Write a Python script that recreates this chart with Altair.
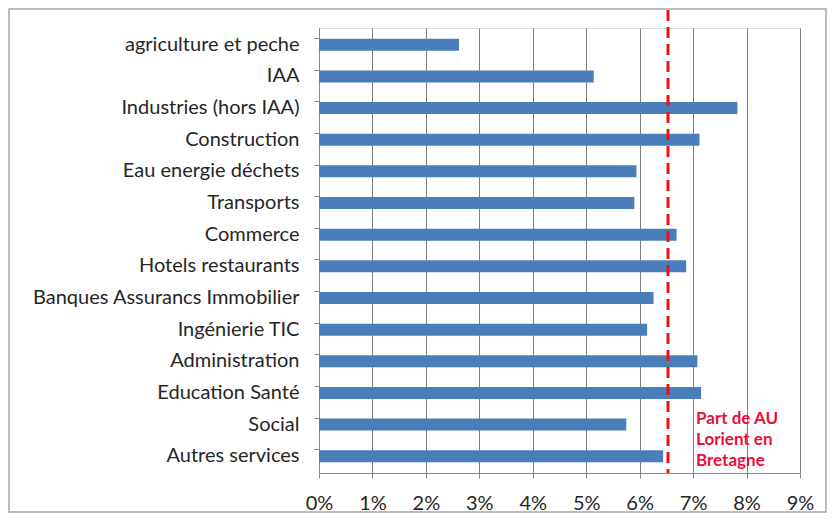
import altair as alt
import pandas as pd

categories = [
    "agriculture et peche", "IAA", "Industries (hors IAA)", "Construction",
    "Eau energie déchets", "Transports", "Commerce", "Hotels restaurants",
    "Banques Assurancs Immobilier", "Ingénierie TIC ", "Administration",
    "Education Santé", "Social", "Autres services",
]
values = [0.0262, 0.0514, 0.0783, 0.0712, 0.0594, 0.0590, 0.0669, 0.0687,
          0.0626, 0.0614, 0.0708, 0.0715, 0.0575, 0.0644]
ref_value = [0.0653]
ref_label = ["Part de AU\nLorient en\nBretagne"]
x_ticks = [0, 0.01, 0.02, 0.03, 0.04, 0.05, 0.06, 0.07, 0.08, 0.09]

df = pd.DataFrame({"cat": categories, "val": values})
ref = pd.DataFrame({"v": ref_value, "lab": ref_label})

FONT = "Lato"
W, H = 481, 445

xscale = alt.Scale(domain=[0, 0.09], nice=False, zero=True)

bars = alt.Chart(df).mark_bar(color="#4a7ebb", size=12).encode(
    y=alt.Y("cat:N", sort=None, title=None,
            scale=alt.Scale(paddingInner=0.6, paddingOuter=0.33),
            axis=alt.Axis(labelFont=FONT, labelFontSize=20, labelColor="#262626",
                          labelPadding=15, tickSize=5, bandPosition=0,
                          tickColor="#888", domainColor="#888",
                          labelLimit=320, grid=False)),
    x=alt.X("val:Q", scale=xscale, title=None,
            axis=alt.Axis(values=x_ticks, format=".0%", labelFont=FONT,
                          labelFontSize=20, labelColor="#262626", labelPadding=15,
                          labelFlush=False, labelOverlap=False,
                          tickSize=5, tickColor="#888", domainColor="#888",
                          grid=True, gridColor="#7f7f7f", gridWidth=1)),
)

frame = alt.Chart(ref).mark_rect(fill=None, stroke="#a6a6a6", strokeWidth=1.5).encode(
    x=alt.value(-310), x2=alt.value(W + 26), y=alt.value(-19), y2=alt.value(H + 39)
)

rule = alt.Chart(ref).mark_rule(color="#ee1111", strokeWidth=3, strokeDash=[11, 6]).encode(
    x=alt.X("v:Q", scale=xscale), y=alt.value(-18), y2=alt.value(H)
)

label = alt.Chart(ref).mark_text(
    align="left", baseline="middle", font=FONT, fontSize=17, fontWeight="bold",
    color="#e8103a", lineBreak="\n", lineHeight=21, dx=28
).encode(
    x=alt.X("v:Q", scale=xscale), y=alt.value(391), text="lab:N"
)

chart = alt.layer(frame, bars, rule, label).properties(
    width=W, height=H,
    autosize=alt.AutoSizeParams(type="none"),
    padding={"left": 311, "top": 20, "right": 27, "bottom": 40},
).configure_view(stroke=None).configure(background="white")

chart.save("out.html", embed_options={"renderer": "svg", "actions": False})
